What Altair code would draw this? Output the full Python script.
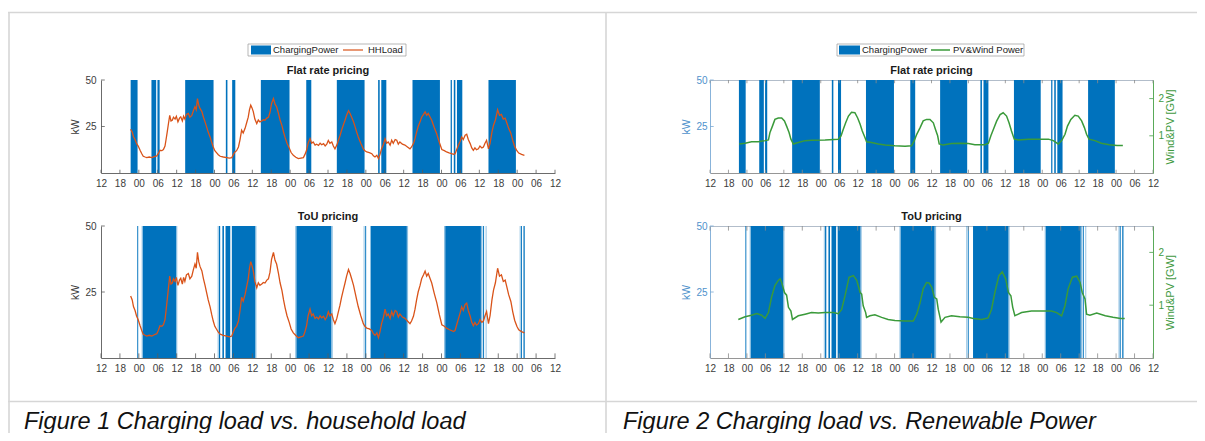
import json
import altair as alt
import pandas as pd

# ---------------------------------------------------------------- data
TICK_HOURS = list(range(0, 145, 6))          # hours after 12:00 of day 0
TICK_LABELS = ["12", "18", "00", "06"]
KW_TICKS = [25, 50]
GW_TICKS = [1, 2]
KW_MAX = 50
GW_MAX = 2.5

# charging power blocks (0 -> 50 kW), hours after first tick
FLAT_START = [9.4, 16.0, 17.9, 26.7, 39.6, 41.6, 50.7, 65.1, 74.8, 87.9, 88.9, 98.8, 110.9, 111.9, 112.9, 122.9]
FLAT_END = [11.6, 17.5, 18.6, 35.7, 40.1, 42.6, 59.8, 66.7, 83.6, 88.4, 90.5, 107.5, 111.3, 112.4, 114.6, 131.6]

TOU_START = [11.5, 13.3, 37.4, 38.5, 39.5, 41.5, 62.0, 83.8, 85.5, 109.2, 121.2, 133.2, 134.0]
TOU_END = [11.8, 23.8, 37.8, 39.0, 41.0, 48.9, 73.0, 84.1, 97.0, 120.5, 121.5, 133.5, 134.4]
TOU_EDGE_START = [12.9, 23.8, 37.0, 48.9, 61.6, 73.0, 83.3, 97.0, 108.8, 120.5, 122.0, 132.8]
TOU_EDGE_END = [13.3, 24.2, 37.3, 49.3, 62.0, 73.5, 83.6, 97.4, 109.2, 121.0, 122.3, 133.1]

# household load (kW)
HH_T = [9.4, 9.9, 10.3, 10.8, 11.3, 11.8, 12.4, 12.9, 13.4, 14.0, 14.5, 15.3, 16.1, 16.9, 17.7, 18.2,
        18.7, 19.3, 19.8, 20.3, 20.6, 21.0, 21.4, 21.8, 22.2, 22.6, 23.0, 23.5, 23.9, 24.4, 24.9, 25.3,
        25.8, 26.2, 26.6, 27.1, 27.7, 28.2, 28.8, 29.3, 29.8, 30.2, 30.6, 31.0, 31.4, 32.0, 32.5, 33.0,
        33.5, 34.0, 34.6, 35.1, 35.6, 36.1, 36.7, 37.2, 37.8, 38.8, 39.9, 40.7, 41.5, 42.0, 42.5, 43.0,
        43.6, 44.1, 44.6, 45.1, 45.7, 46.2, 46.7, 47.1, 47.5, 47.9, 48.3, 48.8, 49.4, 49.9, 50.4, 51.0,
        51.5, 52.0, 52.6, 53.1, 53.6, 54.1, 54.7, 55.2, 55.7, 56.3, 56.8, 57.4, 57.9, 58.4, 59.0, 59.7,
        60.3, 61.0, 61.8, 62.6, 63.4, 64.2, 64.7, 65.2, 65.7, 66.3, 66.8, 67.3, 67.9, 68.4, 69.0, 69.5,
        70.0, 70.6, 71.1, 71.6, 72.1, 72.6, 73.2, 73.7, 74.2, 74.8, 75.3, 75.8, 76.3, 76.9, 77.4, 77.9,
        78.5, 79.0, 79.5, 80.1, 80.6, 81.1, 81.6, 82.4, 83.2, 83.7, 84.3, 85.1, 85.9, 86.4, 86.9, 87.5,
        88.0, 88.5, 89.0, 89.6, 90.1, 90.6, 91.1, 91.7, 92.2, 92.7, 93.3, 93.8, 94.3, 94.8, 95.6, 96.4,
        97.2, 98.0, 98.5, 99.1, 99.6, 100.1, 100.6, 101.2, 101.7, 102.3, 102.8, 103.3, 103.8, 104.4, 104.9, 105.7,
        106.5, 107.3, 108.1, 108.9, 109.6, 110.4, 111.2, 111.8, 112.3, 112.8, 113.4, 113.9, 114.4, 114.9, 115.5, 116.0,
        116.5, 117.1, 117.6, 118.1, 118.6, 119.1, 119.7, 120.2, 120.8, 121.3, 121.8, 122.3, 122.9, 123.4, 124.0, 124.5,
        125.1, 125.8, 126.4, 127.0, 127.6, 128.2, 128.7, 129.3, 130.0, 130.6, 131.2, 131.9, 132.5, 133.4, 134.3]
HH_KW = [23.5, 22.0, 19.5, 18.0, 15.8, 14.5, 12.2, 10.5, 9.0, 8.6, 8.3, 8.6, 8.3, 8.8, 9.2, 10.5,
         12.2, 12.0, 12.6, 14.5, 17.6, 22.0, 26.6, 31.0, 28.0, 28.4, 30.0, 29.0, 30.5, 27.5, 29.5, 30.2,
         28.0, 30.5, 29.0, 31.5, 32.0, 30.0, 31.0, 33.5, 35.6, 34.0, 40.0, 36.5, 34.7, 33.0, 30.0, 27.5,
         24.8, 22.0, 19.4, 16.5, 14.0, 12.0, 10.8, 9.8, 9.0, 8.6, 8.3, 8.0, 8.3, 10.0, 11.3, 12.0,
         14.0, 18.0, 23.0, 21.5, 24.0, 27.0, 30.0, 34.0, 36.5, 35.0, 33.0, 29.0, 26.6, 28.5, 27.5, 28.0,
         28.6, 28.4, 29.5, 30.0, 32.5, 37.4, 40.0, 37.0, 35.6, 32.0, 28.5, 25.5, 22.0, 19.0, 16.0, 13.5,
         11.0, 9.5, 8.5, 7.7, 8.0, 8.3, 10.0, 12.2, 16.0, 18.5, 16.0, 16.7, 15.0, 15.5, 14.8, 16.0,
         15.2, 15.8, 14.5, 15.5, 17.5, 16.0, 16.7, 14.5, 13.0, 15.0, 17.6, 20.0, 23.0, 26.0, 28.4, 31.0,
         33.5, 32.0, 30.0, 27.5, 24.8, 22.0, 19.4, 16.0, 13.0, 12.0, 11.3, 11.0, 10.4, 9.2, 8.6, 9.5,
         7.7, 10.0, 13.0, 15.5, 18.5, 16.0, 16.7, 15.0, 17.6, 16.0, 18.0, 17.6, 15.5, 16.7, 15.5, 15.0,
         14.0, 13.0, 14.0, 15.8, 18.5, 22.0, 25.0, 27.5, 30.0, 31.5, 32.9, 31.0, 32.0, 30.0, 28.4, 24.5,
         21.0, 16.5, 12.6, 12.0, 11.3, 10.8, 10.4, 10.0, 10.4, 12.5, 15.0, 17.0, 19.4, 18.0, 20.3, 20.8,
         18.0, 15.8, 13.5, 12.2, 13.5, 12.5, 13.0, 14.5, 13.5, 14.0, 16.0, 17.6, 13.0, 16.0, 22.0, 25.7,
         28.5, 34.0, 31.0, 31.5, 29.0, 29.5, 27.0, 24.0, 21.4, 17.5, 14.3, 12.0, 10.7, 10.0, 9.5]

# PV & wind power (GW), flat-rate figure
PV_FLAT_T = [9.5, 11.4, 13.5, 15.7, 17.9, 19.0, 19.5, 20.3, 21.1, 22.2, 23.3, 24.2, 24.9, 25.7, 26.3, 27.1,
             28.7, 30.9, 33.0, 37.4, 41.7, 42.6, 43.3, 44.1, 45.0, 46.0, 47.1, 48.0, 48.8, 49.5, 50.4, 50.9,
             52.5, 54.7, 56.9, 60.1, 63.4, 65.5, 66.4, 67.2, 68.3, 69.3, 70.4, 71.5, 72.6, 73.3, 74.0, 74.5,
             75.8, 78.5, 81.3, 84.0, 86.1, 89.4, 90.5, 91.3, 92.1, 93.2, 94.3, 95.3, 96.4, 97.2, 98.0, 98.9,
             100.2, 103.5, 110.0, 111.6, 113.2, 114.3, 115.4, 116.2, 117.3, 118.6, 119.7, 120.8, 121.7, 122.4, 123.2, 125.1,
             127.2, 129.8, 132.3, 134.2]
PV_FLAT_GW = [0.78, 0.80, 0.84, 0.84, 0.87, 0.89, 1.09, 1.26, 1.44, 1.48, 1.48, 1.40, 1.26, 1.09, 0.91, 0.78,
              0.82, 0.87, 0.88, 0.89, 0.91, 1.00, 1.17, 1.35, 1.53, 1.63, 1.62, 1.48, 1.31, 1.13, 0.95, 0.84,
              0.82, 0.78, 0.75, 0.73, 0.72, 0.73, 0.87, 1.04, 1.22, 1.40, 1.44, 1.44, 1.35, 1.17, 1.00, 0.78,
              0.75, 0.79, 0.80, 0.79, 0.76, 0.76, 0.80, 1.00, 1.17, 1.40, 1.57, 1.62, 1.53, 1.35, 1.13, 0.91,
              0.89, 0.91, 0.91, 0.87, 0.78, 0.87, 1.04, 1.26, 1.44, 1.55, 1.53, 1.40, 1.22, 1.04, 0.91, 0.87,
              0.80, 0.76, 0.74, 0.74]

# PV & wind power (GW), ToU figure
PV_TOU_T = [9.2, 11.4, 13.5, 15.2, 16.8, 17.9, 19.0, 20.0, 21.1, 22.2, 22.8, 23.3, 24.2, 24.9, 25.5, 26.3,
            26.8, 28.7, 30.9, 33.0, 35.2, 37.4, 40.1, 41.7, 42.8, 43.9, 45.2, 46.6, 47.7, 48.8, 49.3, 49.8,
            50.6, 50.9, 52.0, 53.6, 55.8, 57.9, 60.1, 63.4, 66.1, 67.2, 68.3, 69.3, 70.4, 71.2, 72.1, 72.9,
            73.7, 74.2, 75.1, 76.4, 78.5, 81.2, 83.9, 85.6, 88.3, 90.4, 91.5, 92.6, 93.9, 95.0, 96.1, 97.0,
            97.8, 98.4, 99.1, 101.3, 104.5, 107.8, 111.0, 112.7, 114.3, 115.4, 116.4, 117.8, 119.2, 120.3, 121.0, 121.9,
            122.4, 123.5, 125.7, 128.5, 131.0, 133.5, 134.8]
PV_TOU_GW = [0.73, 0.78, 0.81, 0.84, 0.81, 0.75, 0.86, 1.15, 1.37, 1.47, 1.50, 1.43, 1.24, 1.19, 0.96, 0.89,
             0.73, 0.80, 0.83, 0.86, 0.85, 0.86, 0.86, 0.84, 0.92, 1.18, 1.53, 1.56, 1.47, 1.24, 1.21, 0.99,
             0.86, 0.77, 0.80, 0.82, 0.77, 0.73, 0.71, 0.70, 0.70, 0.83, 1.05, 1.31, 1.43, 1.42, 1.34, 1.15,
             1.12, 0.92, 0.68, 0.77, 0.80, 0.78, 0.77, 0.75, 0.73, 0.76, 0.92, 1.24, 1.56, 1.63, 1.50, 1.24,
             1.18, 0.96, 0.80, 0.86, 0.89, 0.89, 0.89, 0.86, 0.80, 0.99, 1.31, 1.53, 1.55, 1.43, 1.24, 1.12,
             0.83, 0.81, 0.85, 0.80, 0.77, 0.75, 0.75]

# ---------------------------------------------------------------- style / layout
W, H = 1189, 425
FONT = "Liberation Sans"
BLUE = "#0072BD"
ORANGE = "#D95319"
GREEN = "#3a9a3a"
AX1 = "#5a5a5a"
LAB1 = "#3c3c3c"
AX2L = "#7aaad6"
LAB2L = "#4f92cc"
AX2R = "#46a046"
LAB2R = "#3f9a3f"
BORDER = "#d6d6d6"
TICK_FS = 10

F1_X = (93, 547)
F2_X = (702, 1145)
TOP_Y = (72, 165)
BOT_Y = (218, 350)

LABEL_EXPR = json.dumps(TICK_LABELS) + "[floor(datum.value / 6) % 4]"
ONE = pd.DataFrame({"k": [0]})


def xs(xr):
    return alt.Scale(domain=[0, 144], range=[xr[0], xr[1]], nice=False, zero=False)


def ys(yr, top):
    return alt.Scale(domain=[0, top], range=[yr[1], yr[0]], nice=False, zero=False)


def bottom_axis(yr, dom_color):
    return alt.Axis(orient="bottom", offset=yr[1] - H, values=TICK_HOURS, labelExpr=LABEL_EXPR,
                    ticks=False, tickSize=0, domainColor=dom_color, domainWidth=0.9,
                    labelColor=LAB1, labelFont=FONT, labelFontSize=TICK_FS, labelPadding=5.5,
                    labelOverlap=False, labelFlush=False, grid=False, title=None)


def top_axis(yr, dom_color):
    return alt.Axis(orient="top", offset=-yr[0], values=TICK_HOURS, labels=False,
                    ticks=False, tickSize=0, domainColor=dom_color, domainWidth=0.9,
                    grid=False, title=None)


def left_axis(xr, yr, dom_color, lab_color, title_dx, pad):
    return alt.Axis(orient="left", offset=-xr[0], values=KW_TICKS, ticks=False, tickSize=0,
                    domainColor=dom_color, domainWidth=0.9, labelColor=lab_color, labelFont=FONT,
                    labelFontSize=TICK_FS, labelPadding=pad, grid=False, title="kW",
                    titleFont=FONT, titleFontSize=10.5, titleFontWeight="normal", titleColor=lab_color,
                    titleAngle=270, titleX=title_dx, titleY=(yr[0] + yr[1]) / 2,
                    titleAlign="center", titleBaseline="middle")


def right_axis(xr, yr):
    return alt.Axis(orient="right", offset=xr[1] - W, values=GW_TICKS, ticks=False, tickSize=0,
                    domainColor=AX2R, domainWidth=0.9, labelColor=LAB2R, labelFont=FONT,
                    labelFontSize=TICK_FS, labelPadding=5, grid=False, title="Wind&PV [GW]",
                    titleFont=FONT, titleFontSize=11, titleFontWeight="normal", titleColor=LAB2R,
                    titleAngle=270, titleX=17, titleY=(yr[0] + yr[1]) / 2,
                    titleAlign="center", titleBaseline="middle")


def blocks(xr, yr, start, end, opacity, xaxis=None, yaxis=None):
    df = pd.DataFrame({"start": start, "end": end})
    df["lo"] = 0
    df["hi"] = KW_MAX
    return alt.Chart(df).mark_rect(color=BLUE, opacity=opacity, strokeWidth=0).encode(
        x=alt.X("start:Q", scale=xs(xr), axis=xaxis),
        x2="end:Q",
        y=alt.Y("lo:Q", scale=ys(yr, KW_MAX), axis=yaxis),
        y2="hi:Q",
    )


def series(xr, yr, t, v, top, color, width, xaxis=None, yaxis=None):
    df = pd.DataFrame({"t": t, "v": v})
    return alt.Chart(df).mark_line(color=color, strokeWidth=width).encode(
        x=alt.X("t:Q", scale=xs(xr), axis=xaxis),
        y=alt.Y("v:Q", scale=ys(yr, top), axis=yaxis),
    )


def x_ticks(xr, yr, color, top=False):
    n = len(TICK_HOURS)
    lo = KW_MAX * (0.965 if top else 0.0)
    hi = KW_MAX * (1.0 if top else 0.035)
    df = pd.DataFrame({"t": TICK_HOURS, "lo": [lo] * n, "hi": [hi] * n})
    return alt.Chart(df).mark_rule(color=color, strokeWidth=0.8).encode(
        x=alt.X("t:Q", scale=xs(xr), axis=None),
        y=alt.Y("lo:Q", scale=ys(yr, KW_MAX), axis=None),
        y2="hi:Q",
    )


def y_ticks(xr, yr, vals, top, color, right=False):
    n = len(vals)
    a, b = (142.8, 144.0) if right else (0.0, 1.2)
    df = pd.DataFrame({"v": vals, "a": [a] * n, "b": [b] * n})
    return alt.Chart(df).mark_rule(color=color, strokeWidth=0.8).encode(
        x=alt.X("a:Q", scale=xs(xr), axis=None),
        x2="b:Q",
        y=alt.Y("v:Q", scale=ys(yr, top), axis=None),
    )


def text(s, x, y, size, align="left", weight="normal", style="normal", color="#222222"):
    return alt.Chart(ONE).mark_text(text=s, font=FONT, fontSize=size, align=align, baseline="middle",
                                    fontWeight=weight, fontStyle=style, color=color).encode(
        x=alt.value(x), y=alt.value(y))


def box(x0, x1, y0, y1, fill, stroke=None, sw=0.0):
    if stroke:
        m = alt.Chart(ONE).mark_rect(fill=fill, stroke=stroke, strokeWidth=sw)
    else:
        m = alt.Chart(ONE).mark_rect(fill=fill, strokeWidth=0)
    return m.encode(x=alt.value(x0), x2=alt.value(x1), y=alt.value(y0), y2=alt.value(y1))


def hline(x0, x1, y, color, sw):
    return alt.Chart(ONE).mark_rule(color=color, strokeWidth=sw).encode(
        x=alt.value(x0), x2=alt.value(x1), y=alt.value(y))


def vline(x, y0, y1, color, sw):
    return alt.Chart(ONE).mark_rule(color=color, strokeWidth=sw).encode(
        x=alt.value(x), y=alt.value(y0), y2=alt.value(y1))


layers = []

# table frame and captions
layers += [
    hline(0, W, 4.5, BORDER, 1.6),
    vline(1, 4.5, H, BORDER, 1.6),
    vline(598, 4.5, H, BORDER, 1.6),
    hline(0, W, 393.5, BORDER, 1.6),
    text("Figure 1 Charging load vs. household load", 16, 414, 23.5, style="italic", color="#111111"),
    text("Figure 2 Charging load vs. Renewable Power", 615, 414, 23.5, style="italic", color="#111111"),
]

# ---------------- Figure 1
for yr, start, end, ttl in [(TOP_Y, FLAT_START, FLAT_END, "Flat rate pricing"),
                            (BOT_Y, TOU_START, TOU_END, "ToU pricing")]:
    layers.append(blocks(F1_X, yr, start, end, 1.0,
                         xaxis=bottom_axis(yr, AX1), yaxis=left_axis(F1_X, yr, AX1, LAB1, -26, 5)))
    if ttl == "ToU pricing":
        layers.append(blocks(F1_X, yr, TOU_EDGE_START, TOU_EDGE_END, 0.45))
    layers.append(x_ticks(F1_X, yr, AX1))
    layers.append(y_ticks(F1_X, yr, KW_TICKS, KW_MAX, AX1))
    layers.append(series(F1_X, yr, HH_T, HH_KW, KW_MAX, ORANGE, 1.3))
    layers.append(text(ttl, (F1_X[0] + F1_X[1]) / 2, yr[0] - 9, 11, align="center", weight="bold",
                       color="#1a1a1a"))

# ---------------- Figure 2
for yr, start, end, pv_t, pv_v, ttl in [(TOP_Y, FLAT_START, FLAT_END, PV_FLAT_T, PV_FLAT_GW, "Flat rate pricing"),
                                        (BOT_Y, TOU_START, TOU_END, PV_TOU_T, PV_TOU_GW, "ToU pricing")]:
    layers.append(blocks(F2_X, yr, start, end, 1.0,
                         xaxis=bottom_axis(yr, "#8a8a8a"), yaxis=left_axis(F2_X, yr, AX2L, LAB2L, -24, 3)))
    if ttl == "ToU pricing":
        layers.append(blocks(F2_X, yr, TOU_EDGE_START, TOU_EDGE_END, 0.45))
    layers.append(x_ticks(F2_X, yr, "#8a8a8a"))
    layers.append(x_ticks(F2_X, yr, "#8a8a8a", top=True))
    layers.append(y_ticks(F2_X, yr, KW_TICKS, KW_MAX, AX2L))
    layers.append(y_ticks(F2_X, yr, GW_TICKS, GW_MAX, AX2R, right=True))
    layers.append(series(F2_X, yr, pv_t, pv_v, GW_MAX, GREEN, 1.5,
                         xaxis=top_axis(yr, "#a9b6c4"), yaxis=right_axis(F2_X, yr)))
    layers.append(text(ttl, (F2_X[0] + F2_X[1]) / 2, yr[0] - 9, 11, align="center", weight="bold",
                       color="#1a1a1a"))

# ---------------- legends
layers += [
    box(240, 398, 36, 48, "white", "#9a9a9a", 0.7),
    box(243, 263, 37.5, 46.5, BLUE),
    text("ChargingPower", 265, 42, 9.5),
    hline(335, 355, 42, ORANGE, 1.2),
    text("HHLoad", 360, 42, 9.5),
    box(829, 1016, 36, 48, "white", "#9a9a9a", 0.7),
    box(831, 852, 37.5, 46.5, BLUE),
    text("ChargingPower", 854, 42, 9.5),
    hline(923, 942, 42, GREEN, 1.5),
    text("PV&Wind Power", 945, 42, 9.5),
]

chart = alt.layer(*layers).resolve_scale(x="independent", y="independent").properties(
    width=W, height=H, padding=0, autosize=alt.AutoSizeParams(type="none"), background="white"
).configure_view(stroke=None)

chart.save("out.html", embed_options={"renderer": "svg", "actions": False})
